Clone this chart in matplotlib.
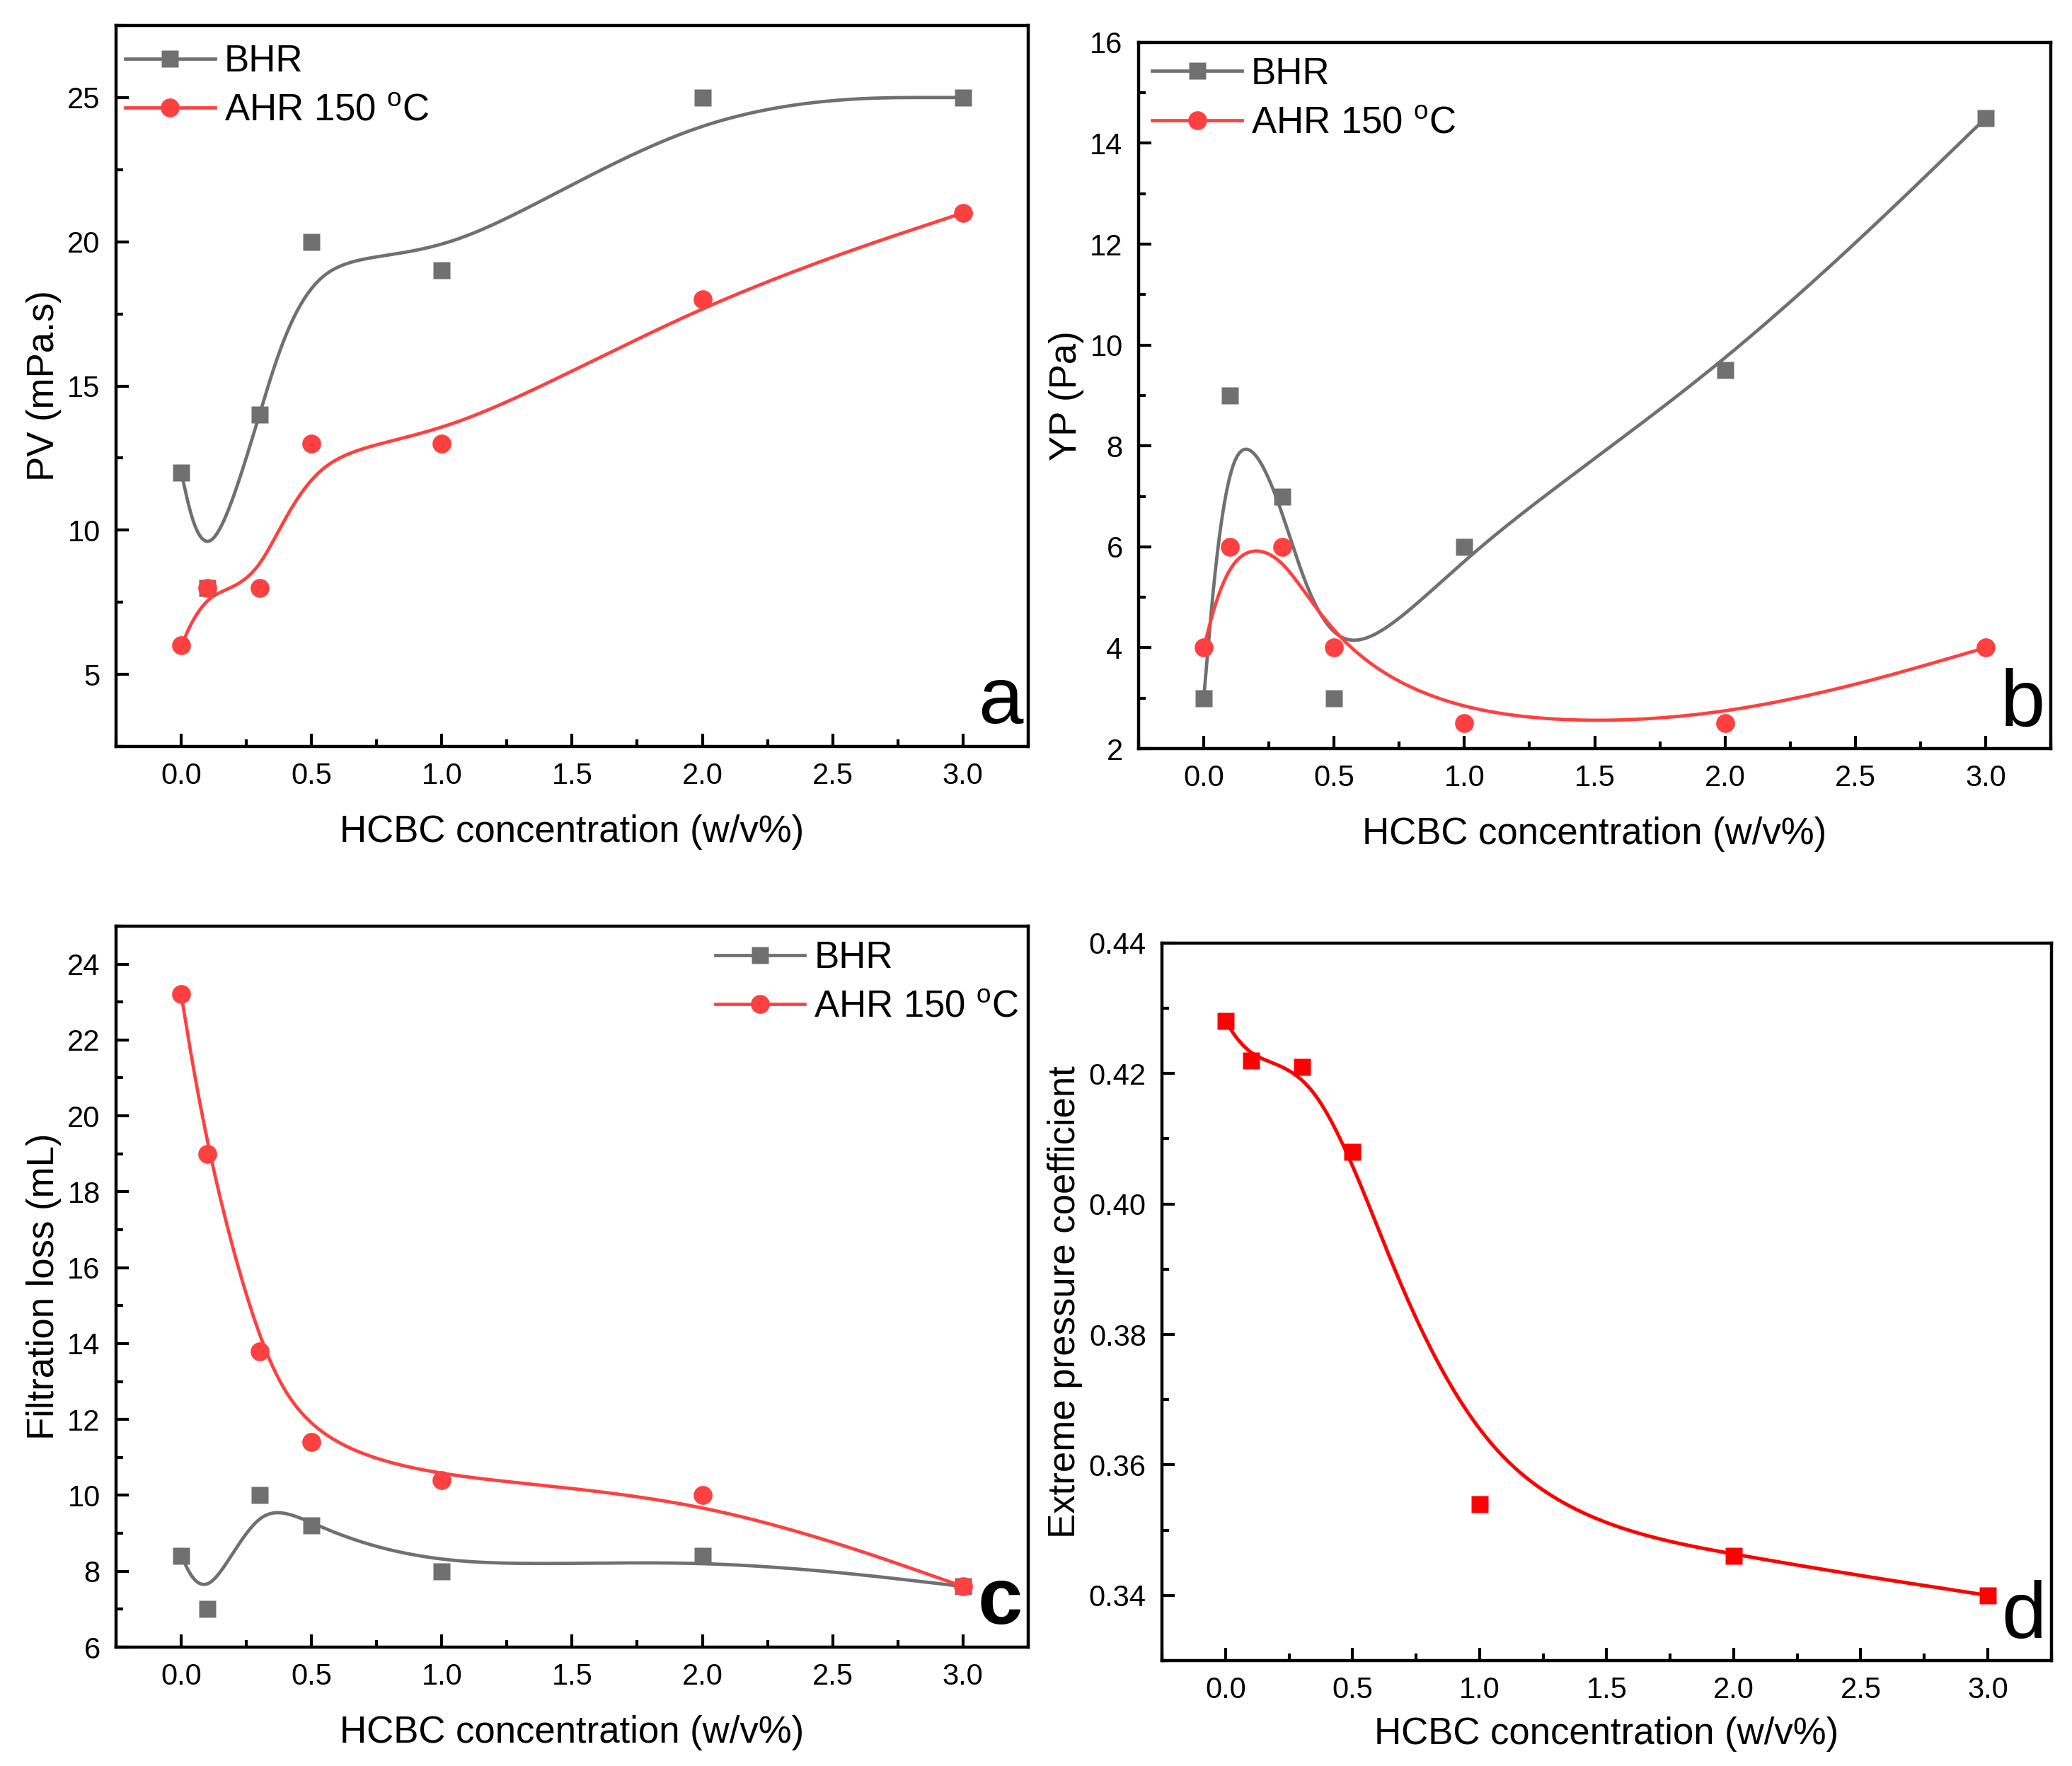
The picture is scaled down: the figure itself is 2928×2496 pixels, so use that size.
import numpy as np
import matplotlib
matplotlib.use("Agg")
import matplotlib.pyplot as plt
from matplotlib.ticker import MultipleLocator

plt.rcParams['font.family'] = ['Liberation Sans', 'DejaVu Sans']
plt.rcParams['mathtext.fontset'] = 'custom'
plt.rcParams['mathtext.rm'] = 'Liberation Sans'

# ---------------- data ----------------
conc = [0.0, 0.1, 0.3, 0.5, 1.0, 2.0, 3.0]
pv_bhr = [12, 8, 14, 20, 19, 25, 25]
pv_ahr = [6, 8, 8, 13, 13, 18, 21]
yp_bhr = [3, 9, 7, 3, 6, 9.5, 14.5]
yp_ahr = [4, 6, 6, 4, 2.5, 2.5, 4]
fl_bhr = [8.4, 7.0, 10.0, 9.2, 8.0, 8.4, 7.6]
fl_ahr = [23.2, 19.0, 13.8, 11.4, 10.4, 10.0, 7.6]
ep_coef = [0.428, 0.422, 0.421, 0.408, 0.354, 0.346, 0.340]

labels = ['BHR', 'AHR 150 $^{\\mathrm{o}}$C']
xlabel = 'HCBC concentration (w/v%)'

GRAY = '#707070'
RED = '#FF4040'
PURE_RED = '#FF0000'


def bspline(xs, ys, n=80):
    """Uniform cubic B-spline with the data points as control points
    (end points tripled so the curve starts/ends on them)."""
    P = np.column_stack([xs, ys]).astype(float)
    Q = np.vstack([P[:1], P[:1], P, P[-1:], P[-1:]])
    t = np.linspace(0, 1, n)
    B = np.column_stack([(1 - t) ** 3,
                         3 * t ** 3 - 6 * t ** 2 + 4,
                         -3 * t ** 3 + 3 * t ** 2 + 3 * t + 1,
                         t ** 3]) / 6.0
    segs = [B @ Q[i:i + 4] for i in range(len(Q) - 3)]
    C = np.vstack(segs)
    return C[:, 0], C[:, 1]


fig = plt.figure(figsize=(14.64, 12.48), dpi=200)

pos = {
    'a': [0.056, 0.5773, 0.4402, 0.4083],
    'b': [0.5495, 0.5761, 0.4403, 0.3999],
    'c': [0.056, 0.0673, 0.4402, 0.4083],
    'd': [0.5608, 0.0597, 0.4292, 0.4063],
}

TICK_FS = 15
LAB_FS = 19
LW = 1.7


def style(ax, ymaj, ymin):
    ax.set_xlim(-0.25, 3.25)
    ax.xaxis.set_major_locator(MultipleLocator(0.5))
    ax.xaxis.set_minor_locator(MultipleLocator(0.25))
    ax.yaxis.set_major_locator(MultipleLocator(ymaj))
    ax.yaxis.set_minor_locator(MultipleLocator(ymin))
    ax.tick_params(which='both', direction='in', top=False, right=False,
                   width=1.5, labelsize=TICK_FS)
    ax.tick_params(which='major', length=6.5, pad=8)
    ax.tick_params(which='minor', length=3.6)
    for s in ax.spines.values():
        s.set_linewidth(1.6)
    ax.set_xlabel(xlabel, fontsize=LAB_FS, labelpad=12)


def two_series(ax, yb, ya):
    xb, ybs = bspline(conc, yb)
    xa, yas = bspline(conc, ya)
    ax.plot(xb, ybs, color=GRAY, lw=LW, zorder=2)
    ax.plot(xa, yas, color=RED, lw=LW, zorder=2)
    ax.plot(conc, yb, ls='none', marker='s', ms=8.6, color=GRAY, mec='none', zorder=3)
    ax.plot(conc, ya, ls='none', marker='o', ms=9.6, color=RED, mec='none', zorder=3)
    hb, = ax.plot([], [], color=GRAY, lw=LW, marker='s', ms=8.6, mec='none')
    ha, = ax.plot([], [], color=RED, lw=LW, marker='o', ms=9.6, mec='none')
    return [hb, ha]


def legend(ax, h, loc, anchor):
    ax.legend(h, labels, loc=loc, bbox_to_anchor=anchor, frameon=False,
              fontsize=LAB_FS, handlelength=2.4, handletextpad=0.25,
              labelspacing=0.37, borderpad=0.15, borderaxespad=0.1)


def letter(ax, s, bold=False):
    ax.text(0.994, 0.032, s, transform=ax.transAxes, ha='right', va='baseline',
            fontsize=41, fontweight='bold' if bold else 'normal')


# ---- a ----
ax = fig.add_axes(pos['a'])
h = two_series(ax, pv_bhr, pv_ahr)
ax.set_ylim(2.5, 27.5)
style(ax, 5, 2.5)
ax.set_ylabel('PV (mPa.s)', fontsize=LAB_FS, labelpad=3)
legend(ax, h, 'upper left', (0.0, 0.987))
letter(ax, 'a')

# ---- b ----
ax = fig.add_axes(pos['b'])
h = two_series(ax, yp_bhr, yp_ahr)
ax.set_ylim(2, 16)
style(ax, 2, 1)
ax.set_ylabel('YP (Pa)', fontsize=LAB_FS, labelpad=3)
legend(ax, h, 'upper left', (0.0047, 0.9935))
letter(ax, 'b')

# ---- c ----
ax = fig.add_axes(pos['c'])
h = two_series(ax, fl_bhr, fl_ahr)
ax.set_ylim(6, 25)
style(ax, 2, 1)
ax.set_ylabel('Filtration loss (mL)', fontsize=LAB_FS, labelpad=3)
legend(ax, h, 'upper right', (1.0, 0.993))
letter(ax, 'c', bold=True)

# ---- d ----
ax = fig.add_axes(pos['d'])
xd, yd = bspline(conc, ep_coef)
ax.plot(xd, yd, color=PURE_RED, lw=1.8, zorder=2)
ax.plot(conc, ep_coef, ls='none', marker='s', ms=8.6, color=PURE_RED, mec='none', zorder=3)
ax.set_ylim(0.33, 0.44)
style(ax, 0.02, 0.01)
ax.set_ylabel('Extreme pressure coefficient', fontsize=LAB_FS, labelpad=3)
ax.xaxis.labelpad = 6
letter(ax, 'd')

fig.savefig('out.png', dpi=200, facecolor='white')
